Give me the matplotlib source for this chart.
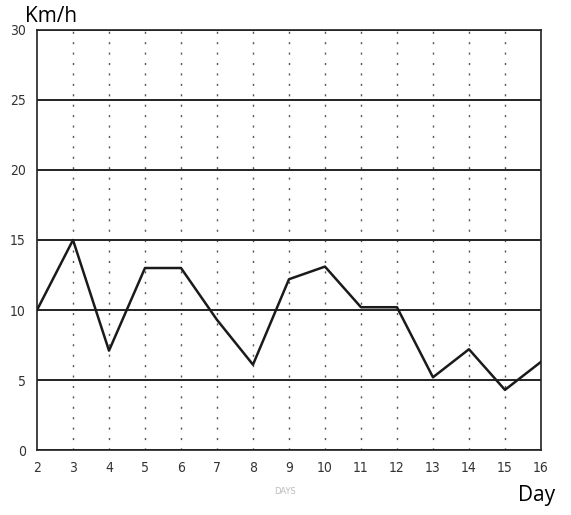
import matplotlib
matplotlib.use("Agg")
import matplotlib.pyplot as plt

days = [2, 3, 4, 5, 6, 7, 8, 9, 10, 11, 12, 13, 14, 15, 16]
speed = [10, 15, 7.1, 13.0, 13.0, 9.3, 6.1, 12.2, 13.1, 10.2, 10.2, 5.2, 7.2, 4.3, 6.3]
y_ticks = [0, 5, 10, 15, 20, 25, 30]

fig = plt.figure(figsize=(5.71, 5.15), dpi=100)
ax = fig.add_axes([0.0648, 0.126, 0.8826, 0.816])

for d in days[1:-1]:
    ax.axvline(d, color="#555555", lw=1.0, ls=(0, (1.5, 6)), zorder=1)
for yv in y_ticks:
    ax.axhline(yv, color="#222222", lw=1.4, zorder=2)

ax.plot(days, speed, color="#1a1a1a", lw=1.8, zorder=3)

ax.set_xlim(2, 16)
ax.set_ylim(0, 30)
ax.set_xticks(days)
ax.set_yticks(y_ticks)
ax.tick_params(length=0, pad=8, labelsize=10, colors="#333333")
for lab in ax.get_xticklabels() + ax.get_yticklabels():
    lab.set_fontstretch("condensed")
for s in ax.spines.values():
    s.set_color("#222222")
    s.set_linewidth(1.2)

fig.text(25 / 571, 1 - 17 / 515, "Km/h", fontsize=15, family="Open Sans",
         ha="left", va="center")
fig.text(555 / 571, 1 - 496 / 515, "Day", fontsize=15, family="Open Sans",
         ha="right", va="center")
fig.text(285 / 571, 1 - 492 / 515, "DAYS", fontsize=6, color="#bbbbbb",
         ha="center", va="center")

fig.savefig("out.png", dpi=100)
